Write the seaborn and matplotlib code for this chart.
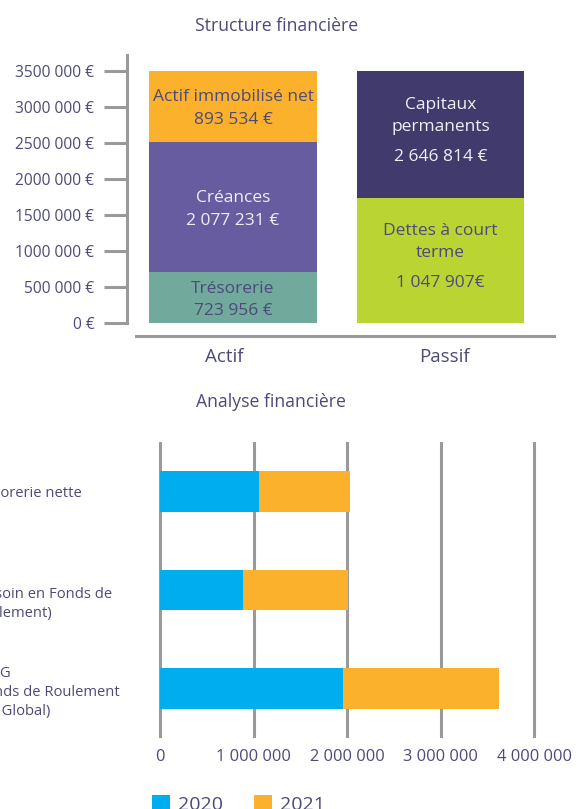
import matplotlib
matplotlib.use("Agg")
import matplotlib.pyplot as plt
from matplotlib.patches import Patch
from matplotlib.transforms import ScaledTranslation
import seaborn as sns
import numpy as np

# ---------------- data ----------------
structure_categories = ["Actif", "Passif"]
actif_names = ["Trésorerie", "Créances", "Actif immobilisé net"]
actif_heights = [708000, 1806000, 986000]          # drawn heights
actif_labels = ["723 956 €", "2 077 231 €", "893 534 €"]
passif_names = ["Dettes à court\nterme", "Capitaux\npermanents"]
passif_heights = [1736000, 1764000]
passif_labels = ["1 047 907€", "2 646 814 €"]
y_ticks = [0, 500000, 1000000, 1500000, 2000000, 2500000, 3000000, 3500000]
y_tick_labels = ["0 €", "500 000 €", "1000 000 €", "1500 000 €", "2000 000 €",
                 "2500 000 €", "3000 000 €", "3500 000 €"]

analyse_categories = ["Trésorerie nette",
                      "BFR\n(Besoin en Fonds de\nRoulement)",
                      "FRNG\n(Fonds de Roulement\nNet Global)"]
values_2020 = [1062000, 892000, 1953000]
values_2021 = [973000, 1116000, 1669000]
x_ticks = [0, 1000000, 2000000, 3000000, 4000000]
x_tick_labels = ["0", "1 000 000", "2 000 000", "3 000 000", "4 000 000"]
years = ["2020", "2021"]

# ---------------- style ----------------
sns.set_style("white")
plt.rcParams["font.family"] = ["Open Sans", "DejaVu Sans"]
TEXT = "#4d4a7a"
LIGHT = "#f0eff7"
GRAY = "#9a9a9a"
actif_colors = ["#71a99c", "#675c9f", "#fbb12c"]
actif_text_colors = [TEXT, LIGHT, TEXT]
passif_colors = ["#bad532", "#403b6c"]
passif_text_colors = [TEXT, LIGHT]
year_colors = ["#00aeef", "#fbb12c"]

W, H = 577, 809
fig = plt.figure(figsize=(W / 100, H / 100), dpi=100)


def px_axes(left, top, right, bottom):
    return fig.add_axes([left / W, 1 - bottom / H, (right - left) / W, (bottom - top) / H])


# ---------------- top chart ----------------
ax1 = px_axes(127, 55, 554, 336)
bottom = 0
for name, h, lab, c, tc in zip(actif_names, actif_heights, actif_labels,
                               actif_colors, actif_text_colors):
    sns.barplot(x=["Actif"], y=[h], bottom=bottom, order=structure_categories,
                color=c, width=0.807, errorbar=None, ax=ax1, saturation=1, linewidth=0)
    mid = bottom + h / 2
    ax1.annotate(name, (0, mid), xytext=(0, 9), textcoords="offset pixels",
                 ha="center", va="center", fontsize=12.5, color=tc)
    ax1.annotate(lab, (0, mid), xytext=(0, -13.5), textcoords="offset pixels",
                 ha="center", va="center", fontsize=12.5, color=tc)
    bottom += h
bottom = 0
for name, h, lab, c, tc in zip(passif_names, passif_heights, passif_labels,
                               passif_colors, passif_text_colors):
    sns.barplot(x=["Passif"], y=[h], bottom=bottom, order=structure_categories,
                color=c, width=0.807, errorbar=None, ax=ax1, saturation=1, linewidth=0)
    mid = bottom + h / 2
    ax1.annotate(name, (1, mid), xytext=(0, 19), textcoords="offset pixels",
                 ha="center", va="center", fontsize=12.5, color=tc, linespacing=1.5)
    ax1.annotate(lab, (1, mid), xytext=(0, -22.5), textcoords="offset pixels",
                 ha="center", va="center", fontsize=12.5, color=tc)
    bottom += h

ytop = 268 / 72 * 1e6
ax1.set_ylim(-13 / 72 * 1e6, ytop)
ax1.set_xlim(-0.511, 1.547)
ax1.set_xlabel("")
ax1.set_ylabel("")
for s in ["top", "right"]:
    ax1.spines[s].set_visible(False)
for s in ["left", "bottom"]:
    ax1.spines[s].set_color(GRAY)
    ax1.spines[s].set_linewidth(2.2)
ax1.spines["left"].set_bounds(0, ytop)
ax1.spines["bottom"].set_bounds(-0.467, 1.547)
ax1.set_yticks(y_ticks)
ax1.set_yticklabels(y_tick_labels)
ax1.tick_params(axis="y", length=16.5, width=2.2, color=GRAY, pad=7,
                labelsize=11.2, labelcolor=TEXT, left=True)
ax1.set_xticks([0, 1])
ax1.set_xticklabels(structure_categories)
ax1.tick_params(axis="x", length=0, pad=9, labelsize=13.5, labelcolor=TEXT)
for lbl, dx in zip(ax1.get_xticklabels(), [-9, 4]):
    lbl.set_transform(lbl.get_transform() + ScaledTranslation(dx / 100, 0, fig.dpi_scale_trans))

fig.text(277 / W, 1 - 26 / H, "Structure financière", ha="center", va="center",
         fontsize=12.7, color=TEXT)

# ---------------- bottom chart ----------------
ax2 = px_axes(150, 442, 577, 738)
ax2.set_axisbelow(True)
ax2.grid(axis="x", color=GRAY, linewidth=2.2)
ax2.grid(axis="y", visible=False)
sns.barplot(x=values_2020, y=analyse_categories, orient="h", color=year_colors[0],
            width=0.416, errorbar=None, ax=ax2, saturation=1, linewidth=0)
sns.barplot(x=values_2021, y=analyse_categories, orient="h", color=year_colors[1],
            left=np.array(values_2020), width=0.416, errorbar=None, ax=ax2,
            saturation=1, linewidth=0)
ax2.set_xlim(-10 / 93.6 * 1e6, 417 / 93.6 * 1e6)
ax2.set_ylim(2.503, -0.503)
ax2.set_xlabel("")
ax2.set_ylabel("")
for s in ax2.spines.values():
    s.set_visible(False)
ax2.set_xticks(x_ticks)
ax2.set_xticklabels(x_tick_labels)
ax2.tick_params(axis="x", length=0, pad=8, labelsize=11.8, labelcolor=TEXT)
ax2.set_yticks(range(len(analyse_categories)))
ax2.set_yticklabels(analyse_categories, ha="left", linespacing=1.38)
ax2.tick_params(axis="y", length=0, pad=124, labelsize=10.6, labelcolor=TEXT)
for lbl, dx in zip(ax2.get_yticklabels(), [-7, -5, -5]):
    lbl.set_transform(lbl.get_transform() + ScaledTranslation(dx / 100, 0, fig.dpi_scale_trans))

fig.text(271 / W, 1 - 402 / H, "Analyse financière", ha="center", va="center",
         fontsize=12.7, color=TEXT)

handles = [Patch(facecolor=c, edgecolor="none") for c in year_colors]
fig.legend(handles, years, loc="upper left", bbox_to_anchor=(152 / W, 1 - 795 / H),
           ncol=2, frameon=False, fontsize=14, labelcolor=TEXT, borderpad=0,
           borderaxespad=0, handlelength=0.92, handleheight=0.92, handletextpad=0.42,
           columnspacing=1.6)

fig.savefig("out.png", dpi=100)
